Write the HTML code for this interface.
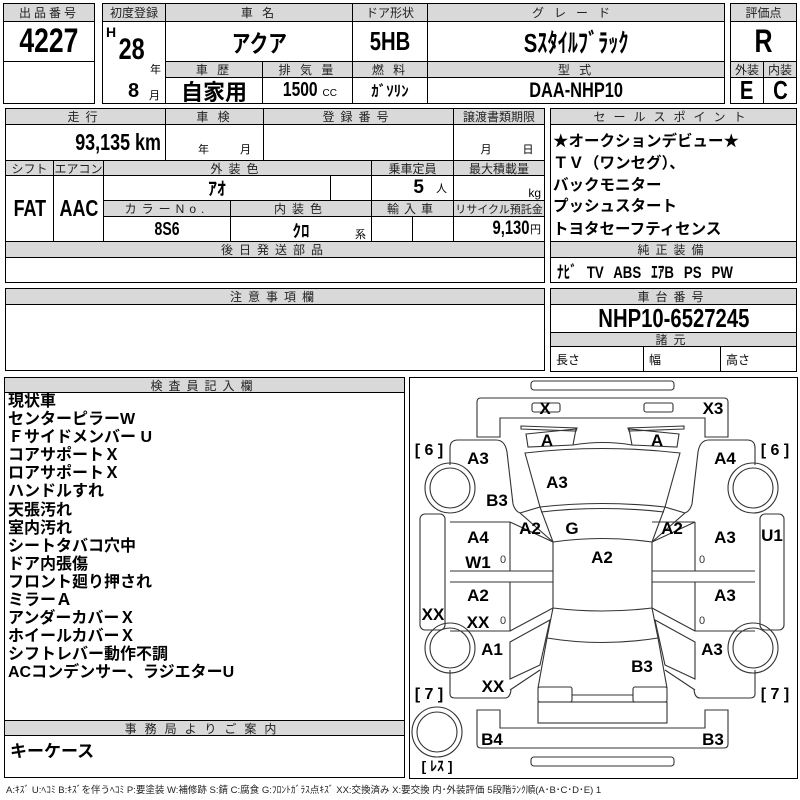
<!DOCTYPE html>
<html><head><meta charset="utf-8">
<style>
html,body{margin:0;padding:0;background:#fff;}
body{width:800px;height:800px;position:relative;overflow:hidden;font-family:"Liberation Sans","Noto Sans CJK JP",sans-serif;}
.c{position:absolute;border:1px solid #000;box-sizing:border-box;display:flex;align-items:center;justify-content:center;background:#fff;color:#000;white-space:nowrap;}
.h{background:#d9d9d9;font-size:12px;color:#222;letter-spacing:3px;}
.n{font-family:"Liberation Sans Narrow","Liberation Sans","Noto Sans CJK JP",sans-serif;font-weight:bold;}
.s{display:inline-block;transform:scaleX(.78);}
.sr{display:inline-block;transform:scaleX(.78);transform-origin:right center;}
.t{position:absolute;white-space:nowrap;}
.lst{position:absolute;left:8px;top:393px;font-family:"Liberation Sans","Noto Sans CJK JP",sans-serif;font-weight:bold;font-size:16px;line-height:18.1px;}
.sp{position:absolute;left:553px;font-weight:bold;font-size:15.5px;font-family:"Liberation Sans","Noto Sans CJK JP",sans-serif;}
</style></head><body>

<div class="c h" style="left:3px;top:3px;width:92px;height:19px">出品番号</div>
<div class="c n" style="left:3px;top:21px;width:92px;height:41px;font-size:34px"><span class="s">4227</span></div>
<div class="c" style="left:3px;top:61px;width:92px;height:43px"></div>

<div class="c h" style="left:102px;top:3px;width:64px;height:19px;letter-spacing:0">初度登録</div>
<div class="c" style="left:102px;top:21px;width:64px;height:83px"></div>
<div class="t n" style="left:106px;top:24px;font-size:14px">H</div>
<div class="t n" style="left:115px;top:33px;font-size:30px"><span class="s">28</span></div>
<div class="t" style="left:150px;top:61px;font-size:11px">年</div>
<div class="t n" style="left:128px;top:80px;font-size:20px">8</div>
<div class="t" style="left:149px;top:87px;font-size:11px">月</div>

<div class="c h" style="left:165px;top:3px;width:188px;height:19px">車 名</div>
<div class="c n" style="left:165px;top:21px;width:188px;height:41px;font-size:24px"><span class="s">アクア</span></div>
<div class="c h" style="left:352px;top:3px;width:76px;height:19px;letter-spacing:0">ドア形状</div>
<div class="c n" style="left:352px;top:21px;width:76px;height:41px;font-size:26px"><span class="s">5HB</span></div>
<div class="c h" style="left:427px;top:3px;width:298px;height:19px;letter-spacing:10px">グレード</div>
<div class="c n" style="left:427px;top:21px;width:298px;height:41px;font-size:26px"><span class="s">Sｽﾀｲﾙﾌﾞﾗｯｸ</span></div>

<div class="c h" style="left:165px;top:61px;width:98px;height:17px">車 歴</div>
<div class="c" style="left:165px;top:77px;width:98px;height:27px;font-size:22px;font-weight:bold;font-family:'Noto Sans CJK JP',sans-serif">自家用</div>
<div class="c h" style="left:262px;top:61px;width:91px;height:17px">排 気 量</div>
<div class="c n" style="left:262px;top:77px;width:91px;height:27px;font-size:20px"><span class="s">1500</span><span style="font-size:10px;font-weight:normal;margin-top:6px">CC</span></div>
<div class="c h" style="left:352px;top:61px;width:76px;height:17px">燃 料</div>
<div class="c n" style="left:352px;top:77px;width:76px;height:27px;font-size:15px">ｶﾞｿﾘﾝ</div>
<div class="c h" style="left:427px;top:61px;width:298px;height:17px">型 式</div>
<div class="c n" style="left:427px;top:77px;width:298px;height:27px;font-size:21px"><span class="s">DAA-NHP10</span></div>

<div class="c h" style="left:730px;top:3px;width:67px;height:19px;letter-spacing:0">評価点</div>
<div class="c n" style="left:730px;top:21px;width:67px;height:41px;font-size:32px"><span class="s">R</span></div>
<div class="c h" style="left:730px;top:61px;width:34px;height:17px;letter-spacing:0">外装</div>
<div class="c h" style="left:763px;top:61px;width:34px;height:17px;letter-spacing:0">内装</div>
<div class="c n" style="left:730px;top:77px;width:34px;height:27px;font-size:26px"><span class="s">E</span></div>
<div class="c n" style="left:763px;top:77px;width:34px;height:27px;font-size:26px"><span class="s">C</span></div>

<div class="c h" style="left:5px;top:108px;width:161px;height:17px;letter-spacing:6px">走行</div>
<div class="c n" style="left:5px;top:124px;width:161px;height:37px;font-size:23px;justify-content:flex-end;padding-right:4px"><span class="sr">93,135 km</span></div>
<div class="c h" style="left:165px;top:108px;width:99px;height:17px">車 検</div>
<div class="c" style="left:165px;top:124px;width:99px;height:37px;font-size:11px;align-items:flex-end;padding-bottom:3px;padding-left:20px;word-spacing:28px">年 月</div>
<div class="c h" style="left:263px;top:108px;width:191px;height:17px;letter-spacing:6px">登録番号</div>
<div class="c" style="left:263px;top:124px;width:191px;height:37px"></div>
<div class="c h" style="left:453px;top:108px;width:92px;height:17px;letter-spacing:0">譲渡書類期限</div>
<div class="c" style="left:453px;top:124px;width:92px;height:37px;font-size:11px;align-items:flex-end;padding-bottom:3px;padding-left:16px;word-spacing:28px">月 日</div>

<div class="c h" style="left:5px;top:160px;width:49px;height:16px;letter-spacing:0">シフト</div>
<div class="c h" style="left:53px;top:160px;width:51px;height:16px;letter-spacing:0">エアコン</div>
<div class="c h" style="left:103px;top:160px;width:269px;height:16px;letter-spacing:6px">外装色</div>
<div class="c h" style="left:371px;top:160px;width:83px;height:16px;letter-spacing:0">乗車定員</div>
<div class="c h" style="left:453px;top:160px;width:92px;height:16px;letter-spacing:0">最大積載量</div>
<div class="c n" style="left:5px;top:175px;width:49px;height:67px;font-size:23px"><span class="s">FAT</span></div>
<div class="c n" style="left:53px;top:175px;width:51px;height:67px;font-size:23px"><span class="s">AAC</span></div>
<div class="c n" style="left:103px;top:175px;width:228px;height:26px;font-size:18px">ｱｵ</div>
<div class="c" style="left:330px;top:175px;width:42px;height:26px"></div>
<div class="c n" style="left:371px;top:175px;width:83px;height:26px;font-size:19px;justify-content:flex-end;padding-right:6px">5 <span style="font-size:11px;font-weight:normal;margin-left:12px">人</span></div>
<div class="c" style="left:453px;top:175px;width:92px;height:26px;font-size:12px;justify-content:flex-end;padding-right:3px;align-items:flex-end">kg</div>
<div class="c h" style="left:103px;top:200px;width:128px;height:17px;letter-spacing:5px">カラーNo.</div>
<div class="c h" style="left:230px;top:200px;width:142px;height:17px;letter-spacing:6px">内装色</div>
<div class="c h" style="left:371px;top:200px;width:83px;height:17px;letter-spacing:5px">輸入車</div>
<div class="c h" style="left:453px;top:200px;width:92px;height:17px;letter-spacing:0;font-size:11px">リサイクル預託金</div>
<div class="c n" style="left:103px;top:216px;width:128px;height:26px;font-size:18px"><span class="s">8S6</span></div>
<div class="c n" style="left:230px;top:216px;width:142px;height:26px;font-size:17px">ｸﾛ</div>
<div class="t" style="left:355px;top:226px;font-size:11px">系</div>
<div class="c" style="left:371px;top:216px;width:42px;height:26px"></div>
<div class="c" style="left:412px;top:216px;width:42px;height:26px"></div>
<div class="c n" style="left:453px;top:216px;width:92px;height:26px;font-size:19px;justify-content:flex-end;padding-right:3px"><span class="sr">9,130</span><span style="font-size:11px;font-weight:normal">円</span></div>
<div class="c h" style="left:5px;top:241px;width:540px;height:17px;letter-spacing:6px">後日発送部品</div>
<div class="c" style="left:5px;top:257px;width:540px;height:26px"></div>

<div class="c h" style="left:5px;top:288px;width:540px;height:17px;letter-spacing:6px">注意事項欄</div>
<div class="c" style="left:5px;top:304px;width:540px;height:67px"></div>

<div class="c h" style="left:550px;top:108px;width:247px;height:17px;letter-spacing:8px">セールスポイント</div>
<div class="c" style="left:550px;top:124px;width:247px;height:118px"></div>
<div class="sp" style="top:129px">★オークションデビュー★</div>
<div class="sp" style="top:151px">ＴＶ（ワンセグ）、</div>
<div class="sp" style="top:173px">バックモニター</div>
<div class="sp" style="top:194px">プッシュスタート</div>
<div class="sp" style="top:217px">トヨタセーフティセンス</div>
<div class="c h" style="left:550px;top:241px;width:247px;height:17px;letter-spacing:6px">純正装備</div>
<div class="c n" style="left:550px;top:257px;width:247px;height:26px;font-size:17px;justify-content:flex-start;padding-left:6px"><span class="s" style="transform-origin:left center;word-spacing:8px">ﾅﾋﾞ TV ABS ｴｱB PS PW</span></div>

<div class="c h" style="left:550px;top:288px;width:247px;height:17px;letter-spacing:6px">車台番号</div>
<div class="c n" style="left:550px;top:304px;width:247px;height:29px;font-size:26px"><span class="s">NHP10-6527245</span></div>
<div class="c h" style="left:550px;top:332px;width:247px;height:15px;letter-spacing:6px">諸元</div>
<div class="c" style="left:550px;top:346px;width:94px;height:26px;font-size:12px;justify-content:flex-start;padding-left:5px;align-items:flex-end;padding-bottom:3px">長さ</div>
<div class="c" style="left:643px;top:346px;width:78px;height:26px;font-size:12px;justify-content:flex-start;padding-left:5px;align-items:flex-end;padding-bottom:3px">幅</div>
<div class="c" style="left:720px;top:346px;width:77px;height:26px;font-size:12px;justify-content:flex-start;padding-left:5px;align-items:flex-end;padding-bottom:3px">高さ</div>

<div class="c h" style="left:4px;top:377px;width:401px;height:16px;letter-spacing:6px">検査員記入欄</div>
<div class="c" style="left:4px;top:392px;width:401px;height:329px"></div>
<div class="lst">現状車<br>センターピラーW<br>Ｆサイドメンバー U<br>コアサポートＸ<br>ロアサポートＸ<br>ハンドルすれ<br>天張汚れ<br>室内汚れ<br>シートタバコ穴中<br>ドア内張傷<br>フロント廻り押され<br>ミラーＡ<br>アンダーカバーＸ<br>ホイールカバーＸ<br>シフトレバー動作不調<br>ACコンデンサー、ラジエターU</div>
<div class="c h" style="left:4px;top:720px;width:401px;height:16px;letter-spacing:8px">事務局よりご案内</div>
<div class="c" style="left:4px;top:735px;width:401px;height:43px"></div>
<div class="t" style="left:10px;top:737px;font-size:17px;font-weight:bold">キーケース</div>
<div class="t" style="left:6px;top:782px;font-size:9.5px;color:#222;font-family:'Liberation Sans','Noto Sans CJK JP',sans-serif">A:ｷｽﾞ U:ﾍｺﾐ B:ｷｽﾞを伴うﾍｺﾐ P:要塗装 W:補修跡 S:錆 C:腐食 G:ﾌﾛﾝﾄｶﾞﾗｽ点ｷｽﾞ XX:交換済み X:要交換 内･外装評価 5段階ﾗﾝｸ順(A･B･C･D･E) 1</div>

<div class="c" style="left:409px;top:377px;width:389px;height:402px"></div>
<svg style="position:absolute;left:0;top:0" width="800" height="800" viewBox="0 0 800 800">
<g fill="none" stroke="#333" stroke-width="1.1">
<rect x="531" y="381" width="143" height="9" rx="3"/>
<rect x="531" y="757" width="143" height="9" rx="3"/>
<path d="M477,437 V402 Q477,398 481,398 H724 Q728,398 728,402 V437 H705 V418 H500 V437 Z"/>
<path d="M477,710 V744 Q477,748 481,748 H724 Q728,748 728,744 V710 H705 V728 H500 V710 Z"/>
<rect x="532" y="403" width="28" height="9" rx="2"/>
<rect x="644" y="403" width="29" height="9" rx="2"/>
<path d="M521,426 L577,428 L576,431 L521,429 Z"/>
<path d="M684,426 L628,428 L629,431 L684,429 Z"/>
<path d="M526,434 L576,429 L573,445 L528,447 Z"/>
<path d="M679,434 L629,429 L632,445 L677,447 Z"/>
<path d="M573,445 Q603,440 632,445"/>
<path d="M525,453 Q602,444 680,453 L665,507 Q602,500 540,507 Z"/>
<path d="M541,512 Q602,505 664,512"/>
<path d="M540,507 L553,542 Q602,535 652,542 L665,507"/>
<path d="M553,542 V608 Q602,614 652,608 V542"/>
<path d="M553,608 L547,638 Q602,647 658,638 L652,608"/>
<path d="M547,638 L538,688 M658,638 L667,688"/>
<rect x="538" y="687" width="34" height="15" rx="2"/>
<rect x="633" y="687" width="34" height="15" rx="2"/>
<path d="M572,695 H633"/>
<rect x="538" y="702" width="129" height="21"/>
<path d="M450,465 V448 Q450,440 458,440 H496 Q505,440 507,452 L513,504 Q515,511 520,513 L553,542"/>
<path d="M755,465 V448 Q755,440 747,440 H709 Q700,440 698,452 L692,504 Q690,511 685,513 L652,542"/>
<path d="M520,513 L540,507 M685,513 L665,507"/>
<circle cx="450" cy="488" r="25"/><circle cx="450" cy="488" r="20"/>
<circle cx="753" cy="488" r="25"/><circle cx="753" cy="488" r="20"/>
<circle cx="450" cy="648" r="25"/><circle cx="450" cy="648" r="20"/>
<circle cx="753" cy="648" r="25"/><circle cx="753" cy="648" r="20"/>
<circle cx="437" cy="732" r="25"/><circle cx="437" cy="732" r="20"/>
<rect x="420" y="514" width="25" height="116" rx="5"/>
<rect x="760" y="514" width="24" height="116" rx="5"/>
<path d="M450,522 H510 V571 M450,571 H553 M450,582 H553 M510,582 V631 H450 M510,522 L553,542 M510,631 L553,608 M510,642 L550,620 L540,665 L510,679 Z M510,690 L540,670 M450,670 V694 Q450,698 455,698 H505 Q510,698 511,690"/>
<path d="M695,522 H652 M695,522 V571 H755 M652,571 H695 M652,582 H755 M695,582 V631 H755 M695,631 L652,608 M695,642 L655,620 L665,665 L695,679 Z M695,690 L665,670 M755,670 V694 Q755,698 750,698 H700 Q695,698 694,690"/>
<path d="M695,522 L652,542"/>
</g>
<g font-family="Liberation Sans, sans-serif" font-weight="bold" font-size="17" fill="#000" text-anchor="middle">
<text x="545" y="414">X</text><text x="713" y="414">X3</text>
<text x="547" y="446">A</text><text x="657" y="446">A</text>
<text x="478" y="464">A3</text><text x="725" y="464">A4</text>
<text x="557" y="488">A3</text><text x="497" y="506">B3</text>
<text x="530" y="534">A2</text><text x="572" y="534">G</text><text x="672" y="534">A2</text>
<text x="602" y="563">A2</text>
<text x="478" y="543">A4</text><text x="478" y="568">W1</text>
<text x="725" y="543">A3</text><text x="772" y="541">U1</text>
<text x="478" y="601">A2</text><text x="478" y="628">XX</text>
<text x="725" y="601">A3</text><text x="433" y="620">XX</text>
<text x="492" y="655">A1</text><text x="712" y="655">A3</text>
<text x="642" y="672">B3</text><text x="493" y="692">XX</text>
<text x="492" y="745">B4</text><text x="713" y="745">B3</text>
</g>
<g font-family="Liberation Sans, sans-serif" font-size="11" fill="#333" text-anchor="middle">
<text x="503" y="563">0</text><text x="702" y="563">0</text>
<text x="503" y="624">0</text><text x="702" y="624">0</text>
</g>
<g font-family="Liberation Sans, Noto Sans CJK JP, sans-serif" font-weight="bold" font-size="16" fill="#000" text-anchor="middle">
<text x="429" y="455" xml:space="preserve">[ 6 ]</text><text x="775" y="455" xml:space="preserve">[ 6 ]</text>
<text x="429" y="699" xml:space="preserve">[ 7 ]</text><text x="775" y="699" xml:space="preserve">[ 7 ]</text>
<text x="437" y="771" font-size="14">[ ﾚｽ ]</text>
</g>
</svg>
</body></html>
